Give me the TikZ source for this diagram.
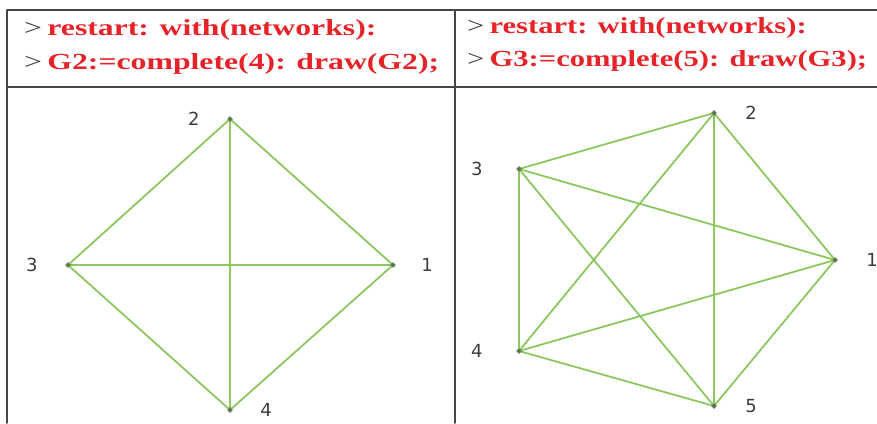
\documentclass[tikz,border=0pt]{standalone}
\usetikzlibrary{shapes.geometric}
\usepackage{fontspec}
\setmainfont{Liberation Serif}
\newfontfamily\labfont{DejaVu Sans}
\definecolor{edgegreen}{RGB}{140,200,95}
\definecolor{cmdred}{RGB}{230,35,40}
\definecolor{framegray}{RGB}{70,70,70}
\definecolor{labgray}{RGB}{60,60,60}
\newcommand{\mapleline}[2][1.38]{\scalebox{#1}[1]{\textcolor{labgray}{>}\,\textcolor{cmdred}{\bfseries #2}}}
\begin{document}
\begin{tikzpicture}[x=1pt, y=-1pt, line join=round, line cap=round,
  v/.style={diamond, draw=gray, fill=edgegreen!60!black, inner sep=1.3pt, line width=0.5pt},
  e/.style={edgegreen, line width=1.8pt},
  lab/.style={font=\labfont\fontsize{18}{18}\selectfont, text=labgray},
  cmd/.style={anchor=base west, inner sep=0pt, font=\fontsize{23}{23}\selectfont},
  fr/.style={framegray, line width=1.8pt}
]
  \useasboundingbox (0,0) rectangle (877,423);

  % frame
  \draw[fr] (7,423)--(7,10)--(877,10);
  \draw[fr, line width=2.6pt] (7,87)--(877,87);
  \draw[fr] (455,10)--(455,423);

  % commands
  \node[cmd] (c1) at (24,35) {\mapleline{restart: with(networks):}};
  \node[cmd] (c2) at (24,69) {\mapleline{G2:=complete(4): draw(G2);}};
  \node[cmd] (c3) at (467,33) {\mapleline[1.33]{restart: with(networks):}};
  \node[cmd] (c4) at (467,66) {\mapleline[1.33]{G3:=complete(5): draw(G3);}};

  % K4
  \coordinate (a1) at (393,265);
  \coordinate (a2) at (230,119);
  \coordinate (a3) at (68,265);
  \coordinate (a4) at (230,410);

  \draw[e] (a1)--(a2)--(a3)--(a4)--cycle;
  \draw[e] (a1)--(a3) (a2)--(a4);

  \node[v,label={[lab,label distance=22pt]right:1}] (n1) at (a1) {};
  \node[v,label={[lab,label distance=24pt]left:2}] (n2) at (a2) {};
  \node[v,label={[lab,label distance=24pt]left:3}] (n3) at (a3) {};
  \node[v,label={[lab,label distance=24pt]right:4}] (n4) at (a4) {};

  % K5
  \coordinate (b1) at (835,260);
  \coordinate (b2) at (714,113);
  \coordinate (b3) at (519,169);
  \coordinate (b4) at (519,351);
  \coordinate (b5) at (714,406);

  \draw[e] (b1)--(b2)--(b3)--(b4)--(b5)--cycle;
  \draw[e] (b1)--(b3) (b1)--(b4) (b2)--(b4) (b2)--(b5) (b3)--(b5);

  \node[v,label={[lab,label distance=25pt]right:1}] (m1) at (b1) {};
  \node[v,label={[lab,label distance=25pt]right:2}] (m2) at (b2) {};
  \node[v,label={[lab,label distance=30pt]left:3}] (m3) at (b3) {};
  \node[v,label={[lab,label distance=30pt]left:4}] (m4) at (b4) {};
  \node[v,label={[lab,label distance=25pt]right:5}] (m5) at (b5) {};
\end{tikzpicture}
\end{document}
